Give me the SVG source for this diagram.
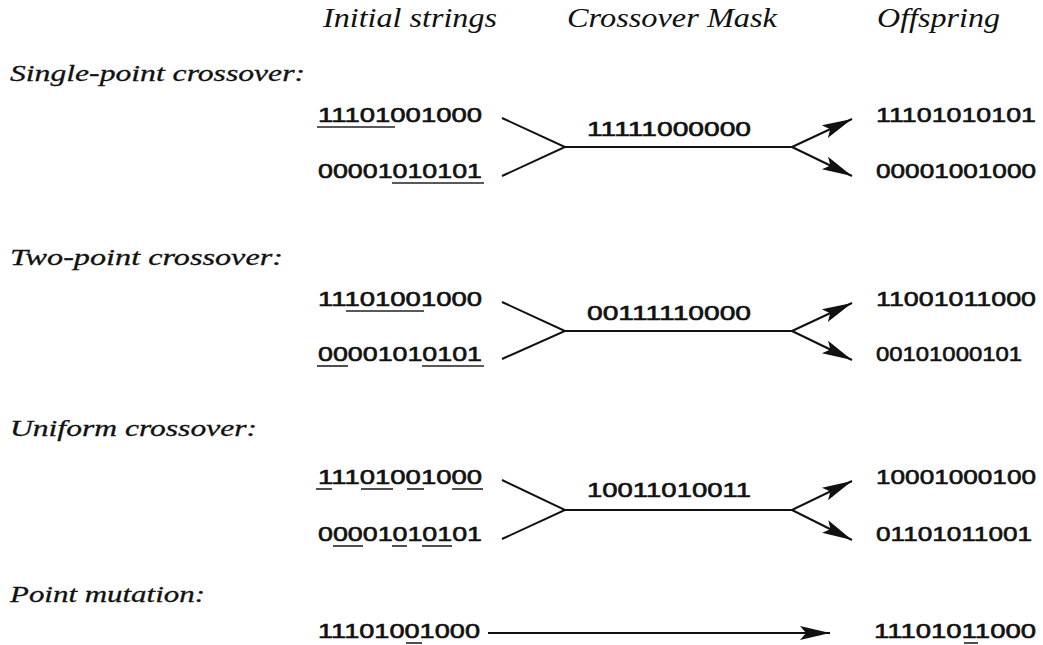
<svg xmlns="http://www.w3.org/2000/svg" width="1043" height="645" viewBox="0 0 1043 645">
<style>
.hdr{font-family:"Liberation Serif","Times New Roman",serif;font-style:italic;font-size:27px;fill:#111}
.lbl{font-family:"Liberation Serif","Times New Roman",serif;font-style:italic;font-size:24px;fill:#111;stroke:#111;stroke-width:0.3}
.bits{font-family:"Liberation Sans",Arial,sans-serif;font-size:21px;fill:#111;stroke:#111;stroke-width:0.6}
.ul{stroke:#222;stroke-width:1.6;fill:none}
.con{stroke:#111;stroke-width:2;fill:none}
.arr{stroke:#111;stroke-width:2;fill:none;marker-end:url(#ah)}
</style>
<defs>
<marker id="ah" markerUnits="userSpaceOnUse" markerWidth="32" markerHeight="18" refX="30" refY="9" orient="auto">
<path d="M0,2 L30,9 L0,16 L6,9 Z" fill="#111"/>
</marker>
</defs>
<rect width="1043" height="645" fill="#fff"/>
<g id="headers">
<text class="hdr" x="323" y="27" textLength="174" lengthAdjust="spacingAndGlyphs">Initial strings</text>
<text class="hdr" x="567" y="27" textLength="210" lengthAdjust="spacingAndGlyphs">Crossover Mask</text>
<text class="hdr" x="877" y="27" textLength="123" lengthAdjust="spacingAndGlyphs">Offspring</text>
</g>
<g id="labels">
<text class="lbl" x="10" y="81" textLength="295" lengthAdjust="spacingAndGlyphs">Single-point crossover:</text>
<text class="lbl" x="10" y="265" textLength="273" lengthAdjust="spacingAndGlyphs">Two-point crossover:</text>
<text class="lbl" x="10" y="436" textLength="247" lengthAdjust="spacingAndGlyphs">Uniform crossover:</text>
<text class="lbl" x="10" y="602" textLength="195" lengthAdjust="spacingAndGlyphs">Point mutation:</text>
</g>
<!-- Single-point -->
<g id="sp-p1">
<text class="bits" x="318" y="122" textLength="164" lengthAdjust="spacingAndGlyphs">11101001000</text>
<line class="ul" x1="317" y1="127" x2="395" y2="127"/>
</g>
<g id="sp-p2">
<text class="bits" x="318" y="178" textLength="164" lengthAdjust="spacingAndGlyphs">00001010101</text>
<line class="ul" x1="392" y1="183" x2="484" y2="183"/>
</g>
<g id="sp-mask">
<text class="bits" x="587" y="136" textLength="164" lengthAdjust="spacingAndGlyphs">11111000000</text>
</g>
<g id="sp-o1">
<text class="bits" x="876" y="122" textLength="160" lengthAdjust="spacingAndGlyphs">11101010101</text>
</g>
<g id="sp-o2">
<text class="bits" x="876" y="178" textLength="160" lengthAdjust="spacingAndGlyphs">00001001000</text>
</g>
<!-- Two-point -->
<g id="tp-p1">
<text class="bits" x="318" y="306" textLength="164" lengthAdjust="spacingAndGlyphs">11101001000</text>
<line class="ul" x1="346" y1="311" x2="424" y2="311"/>
</g>
<g id="tp-p2">
<text class="bits" x="318" y="361" textLength="164" lengthAdjust="spacingAndGlyphs">00001010101</text>
<line class="ul" x1="317" y1="366" x2="348" y2="366"/>
<line class="ul" x1="422" y1="366" x2="484" y2="366"/>
</g>
<g id="tp-mask">
<text class="bits" x="587" y="320" textLength="164" lengthAdjust="spacingAndGlyphs">00111110000</text>
</g>
<g id="tp-o1">
<text class="bits" x="876" y="306" textLength="160" lengthAdjust="spacingAndGlyphs">11001011000</text>
</g>
<g id="tp-o2">
<text class="bits" x="876" y="361" textLength="146" lengthAdjust="spacingAndGlyphs">00101000101</text>
</g>
<!-- Uniform -->
<g id="uf-p1">
<text class="bits" x="318" y="484" textLength="164" lengthAdjust="spacingAndGlyphs">11101001000</text>
<line class="ul" x1="316" y1="489" x2="332" y2="489"/>
<line class="ul" x1="361" y1="489" x2="393" y2="489"/>
<line class="ul" x1="407" y1="489" x2="424" y2="489"/>
<line class="ul" x1="452" y1="489" x2="483" y2="489"/>
</g>
<g id="uf-p2">
<text class="bits" x="318" y="541" textLength="164" lengthAdjust="spacingAndGlyphs">00001010101</text>
<line class="ul" x1="333" y1="546" x2="363" y2="546"/>
<line class="ul" x1="392" y1="546" x2="407" y2="546"/>
<line class="ul" x1="422" y1="546" x2="452" y2="546"/>
</g>
<g id="uf-mask">
<text class="bits" x="587" y="497" textLength="164" lengthAdjust="spacingAndGlyphs">10011010011</text>
</g>
<g id="uf-o1">
<text class="bits" x="876" y="484" textLength="160" lengthAdjust="spacingAndGlyphs">10001000100</text>
</g>
<g id="uf-o2">
<text class="bits" x="876" y="541" textLength="156" lengthAdjust="spacingAndGlyphs">01101011001</text>
</g>
<!-- Point mutation -->
<g id="pm-p">
<text class="bits" x="318" y="638" textLength="162" lengthAdjust="spacingAndGlyphs">11101001000</text>
<line class="ul" x1="406" y1="643" x2="422" y2="643"/>
</g>
<g id="pm-o">
<text class="bits" x="874" y="638" textLength="162" lengthAdjust="spacingAndGlyphs">11101011000</text>
<line class="ul" x1="964" y1="643" x2="978" y2="643"/>
</g>
<g id="connectors">
<polyline class="con" points="502,118 565,147 502,176"/>
<line class="con" x1="565" y1="147" x2="792" y2="147"/>
<line class="arr" x1="792" y1="147" x2="852" y2="119"/>
<line class="arr" x1="792" y1="147" x2="852" y2="176"/>
<polyline class="con" points="502,302 565,331 502,359"/>
<line class="con" x1="565" y1="331" x2="792" y2="331"/>
<line class="arr" x1="792" y1="331" x2="852" y2="303"/>
<line class="arr" x1="792" y1="331" x2="852" y2="360"/>
<polyline class="con" points="502,480 565,510 502,539"/>
<line class="con" x1="565" y1="510" x2="792" y2="510"/>
<line class="arr" x1="792" y1="510" x2="852" y2="481"/>
<line class="arr" x1="792" y1="510" x2="852" y2="540"/>
<line class="arr" x1="488" y1="633" x2="830" y2="633"/>
</g>
</svg>
